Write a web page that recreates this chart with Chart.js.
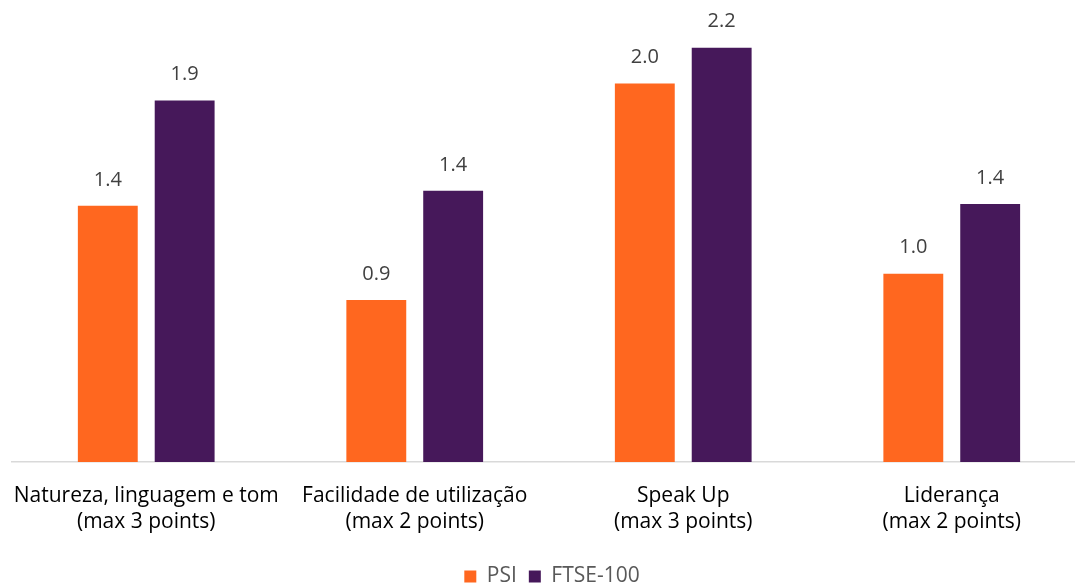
<!DOCTYPE html>
<html>
<head>
<meta charset="utf-8">
<script src="https://cdn.jsdelivr.net/npm/chart.js"></script>
<style>
  body { margin: 0; overflow: hidden; background: #fff; }
  #wrap { width: 1106px; height: 586px; }
</style>
</head>
<body>
<div id="wrap"><canvas id="scoreChart"></canvas></div>
<script>
const categories = [
  ["Natureza, linguagem e tom", "(max 3 points)"],
  ["Facilidade de utilização", "(max 2 points)"],
  ["Speak Up", "(max 3 points)"],
  ["Liderança", "(max 2 points)"],
];
const psiValues = [1.36, 0.86, 2.01, 1.0];
const ftseValues = [1.92, 1.44, 2.2, 1.37];

// value labels above each bar
const valueLabels = {
  id: "valueLabels",
  afterDatasetsDraw(chart) {
    const ctx = chart.ctx;
    ctx.save();
    ctx.font = "20px 'Open Sans'";
    ctx.fillStyle = "#404040";
    ctx.textAlign = "center";
    ctx.textBaseline = "middle";
    chart.data.datasets.forEach((ds, i) => {
      chart.getDatasetMeta(i).data.forEach((bar, j) => {
        ctx.fillText(ds.data[j].toFixed(1), bar.x, bar.y - 26);
      });
    });
    ctx.restore();
  },
};

new Chart(document.getElementById("scoreChart"), {
  type: "bar",
  data: {
    labels: categories,
    datasets: [
      { label: "PSI", data: psiValues, backgroundColor: "#FF671F" },
      { label: "FTSE-100", data: ftseValues, backgroundColor: "#46185A" },
    ],
  },
  options: {
    responsive: true,
    maintainAspectRatio: false,
    animation: false,
    categoryPercentage: 0.5725,
    barPercentage: 0.779,
    layout: { padding: { top: 10, left: -2, right: 0, bottom: -11 } },
    plugins: {
      tooltip: { enabled: false },
      legend: {
        position: "bottom",
        labels: {
          boxWidth: 12,
          boxHeight: 12,
          padding: 12,
          color: "#595959",
          font: { family: "Open Sans", size: 21 },
        },
      },
    },
    scales: {
      x: {
        grid: { display: false },
        border: { color: "#d9d9d9", width: 1.5 },
        ticks: {
          color: "#000",
          padding: 13,
          maxRotation: 0,
          minRotation: 0,
          autoSkip: false,
          font: { family: "Open Sans", size: 21, lineHeight: 1.24 },
        },
        afterFit: (s) => { s.height = 92; },
      },
      y: {
        min: 0,
        max: 2.4,
        grid: { display: false },
        border: { display: false },
        ticks: { display: false },
        afterFit: (s) => { s.width = 8; },
      },
      yr: {
        position: "right",
        grid: { display: false },
        border: { display: false },
        ticks: { display: false },
        afterFit: (s) => { s.width = 20; },
      },
    },
  },
  plugins: [valueLabels],
});
</script>
</body>
</html>
